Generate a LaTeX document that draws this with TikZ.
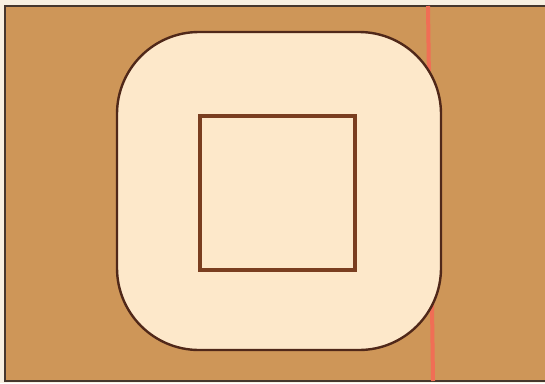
\documentclass[tikz,border=0pt]{standalone}
\definecolor{bgbrown}{RGB}{206,150,88}
\definecolor{cream}{RGB}{253,232,202}
\definecolor{outline}{RGB}{80,40,25}
\definecolor{inner}{RGB}{122,62,32}
\definecolor{redline}{RGB}{240,110,85}
\definecolor{paper}{RGB}{248,240,225}
\definecolor{frame}{RGB}{70,55,45}
\begin{document}
\begin{tikzpicture}[x=1pt,y=-1pt]
\useasboundingbox (0,0) rectangle (545,383);
\fill[paper] (0,0) rectangle (545,383);
\fill[bgbrown] (5,6) rectangle (545,381);
\draw[frame,line width=1.6pt] (545,6) -- (5,6) -- (5,381) -- (545,381);
\draw[redline,line width=4pt] (428,6) -- (433,381);
\draw[outline,fill=cream,line width=2.4pt,rounded corners=82pt] (117,32) rectangle (441,350);
\draw[inner,line width=3.8pt] (200,116) rectangle (355,270);
\end{tikzpicture}
\end{document}
